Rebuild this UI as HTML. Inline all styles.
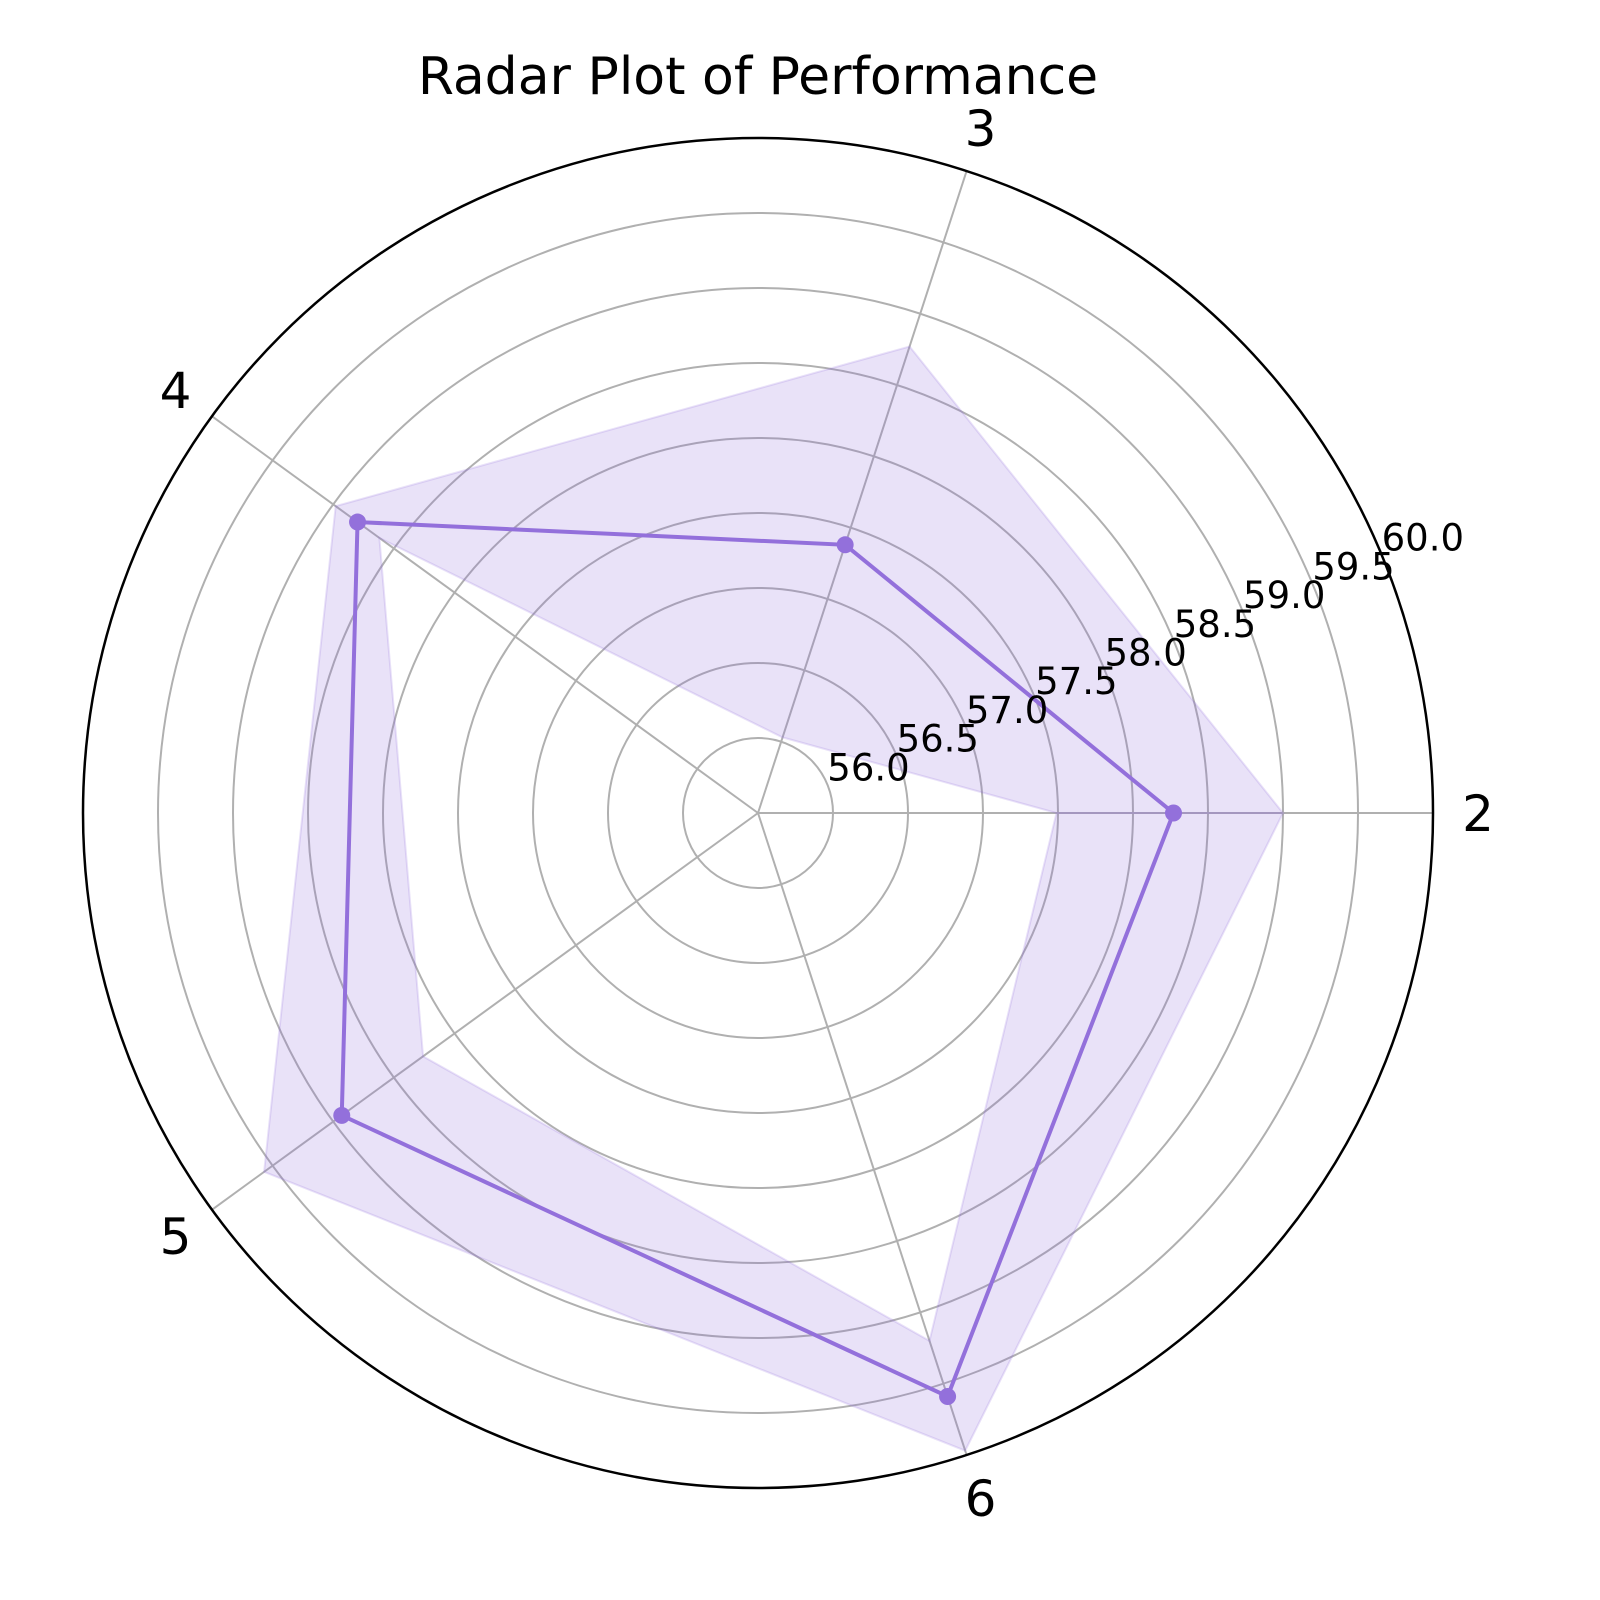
<!DOCTYPE html>
<html><head><meta charset="utf-8"><style>body{margin:0;background:#fff}svg{display:block}</style></head>
<body>
<svg id="chart" width="1600" height="1600" xmlns="http://www.w3.org/2000/svg" font-family="'DejaVu Sans','Liberation Sans',sans-serif">
<text x="758" y="94" font-size="52" text-anchor="middle">Radar Plot of Performance</text>
</svg>
<script>
const categories = ['2','3','4','5','6'];
const values = [58.27, 57.38, 58.8, 58.93, 59.59];
const upper = [59.0, 58.77, 58.98, 59.57, 59.97];
const lower = [57.49, 56.03, 58.62, 58.26, 59.2];
const ticks = [56.0, 56.5, 57.0, 57.5, 58.0, 58.5, 59.0, 59.5, 60.0];
const rMin = 55.5, rMax = 60.0;

const svg = document.getElementById('chart');
const NS = 'http://www.w3.org/2000/svg';
const cx = 758, cy = 813, R = 675;
function rad(v){return (v - rMin) / (rMax - rMin) * R;}
function ang(i){return i * 2 * Math.PI / categories.length;}
function pt(i, v){const r = rad(v), a = ang(i); return [cx + r*Math.cos(a), cy - r*Math.sin(a)];}
function mk(tag, attrs){const e = document.createElementNS(NS, tag); for (const k in attrs) e.setAttribute(k, attrs[k]); svg.appendChild(e); return e;}

ticks.forEach(t => {
  if (t >= rMax) return;
  const c = mk('circle', {cx, cy, r: rad(t), fill: 'none', stroke: '#b0b0b0', 'stroke-width': 2});
  
  
});
categories.forEach((c, i) => {
  const [x, y] = pt(i, rMax);
  const l = mk('line', {x1: cx, y1: cy, x2: x, y2: y, stroke: '#b0b0b0', 'stroke-width': 2});
  
  
  const a = ang(i), lr = R + 45;
  const t = mk('text', {x: cx + lr*Math.cos(a), y: cy - lr*Math.sin(a) + 18, 'font-size': 50, 'text-anchor': 'middle'});
  t.textContent = c;
  
  
});
const outer = mk('circle', {cx, cy, r: R, fill: 'none', stroke: '#000', 'stroke-width': 2.5});



const up = upper.map((v, i) => pt(i, v)); up.push(up[0]);
const lo = lower.map((v, i) => pt(i, v)); lo.push(lo[0]); lo.reverse();
const band = mk('polygon', {points: up.concat(lo).map(p => p.join(',')).join(' '), fill: '#9370db', 'fill-opacity': 0.2, stroke: '#9370db', 'stroke-opacity': 0.2, 'stroke-width': 2});



const lp = values.map((v, i) => pt(i, v)); lp.push(lp[0]);
const line = mk('polyline', {points: lp.map(p => p.join(',')).join(' '), fill: 'none', stroke: '#9370db', 'stroke-width': 4});


values.forEach((v, i) => {
  const [x, y] = pt(i, v);
  const m = mk('circle', {cx: x, cy: y, r: 8.5, fill: '#9370db'});
  
  
});

const ta = 22.5 * Math.PI / 180;
ticks.forEach(t => {
  const r = rad(t);
  const e = mk('text', {x: cx + r*Math.cos(ta), y: cy - r*Math.sin(ta) - 4, 'font-size': 37});
  e.textContent = t.toFixed(1);
  
  
});
</script>
</body></html>
